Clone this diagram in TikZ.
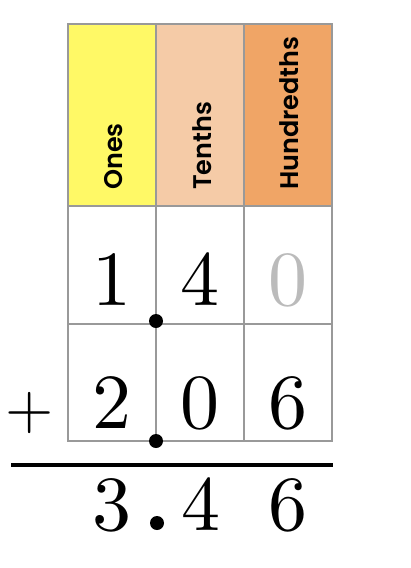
\documentclass[tikz,border=0pt]{standalone}
\usepackage{fontspec}
\newfontfamily\hdrfont{Poppins SemiBold}
\newfontfamily\digfont[Extension=.otf]{lmroman10-regular}
\definecolor{onescol}{HTML}{FFF966}
\definecolor{tenthscol}{HTML}{F5CBA7}
\definecolor{hundcol}{HTML}{F0A566}
\definecolor{gridgray}{HTML}{999999}
\definecolor{faint}{HTML}{BBBBBB}
\begin{document}
\begin{tikzpicture}[x=1pt,y=-1pt,
  gridline/.style={draw=gridgray, line width=1.6pt},
  hdr/.style={rotate=90, anchor=base west, inner sep=0pt, font=\hdrfont\fontsize{25.5}{30}\selectfont},
  digit/.style={anchor=base, inner sep=0pt, font=\digfont\fontsize{78}{90}\selectfont},
  dotpt/.style={fill=black, circle, inner sep=0pt, minimum size=14pt}]
\useasboundingbox (0,0) rectangle (410,568);
\fill[onescol] (68,24) rectangle (156,206);
\fill[tenthscol] (156,24) rectangle (244,206);
\fill[hundcol] (244,24) rectangle (332,206);
\draw[gridline] (68,24) rectangle (332,441);
\draw[gridline] (156,24) -- (156,441);
\draw[gridline] (244,24) -- (244,441);
\draw[gridline] (68,206) -- (332,206);
\draw[gridline] (68,324) -- (332,324);
% headers
\node[hdr] (hones) at (122,190) {Ones};
\node[hdr] (htenths) at (211,190) {Tenths};
\node[hdr] (hhund) at (298,190) {Hundredths};
% row 1
\node[digit] (a1) at (112,305) {1};
\node[digit] (a2) at (200,305) {4};
\node[digit, text=faint] (a3) at (288,305) {0};
% row 2
\node[digit] (b1) at (112,428) {2};
\node[digit] (b2) at (200,428) {0};
\node[digit] (b3) at (288,428) {6};
\node[anchor=base, inner sep=0pt, font=\digfont\fontsize{62}{70}\selectfont] (plus) at (30,428) {+};
% decimal points
\node[dotpt] (d1) at (156,321) {};
\node[dotpt] (d2) at (156,441) {};
% rule
\coordinate (rl) at (11,464.5);
\coordinate (rr) at (333,464.5);
\draw[line width=4pt] (rl) -- (rr);
% sum
\node[digit] (s1) at (112,530) {3};
\node[dotpt] (sd) at (157,523) {};
\node[digit] (s2) at (201,530) {4};
\node[digit] (s3) at (288,530) {6};
\end{tikzpicture}
\end{document}
